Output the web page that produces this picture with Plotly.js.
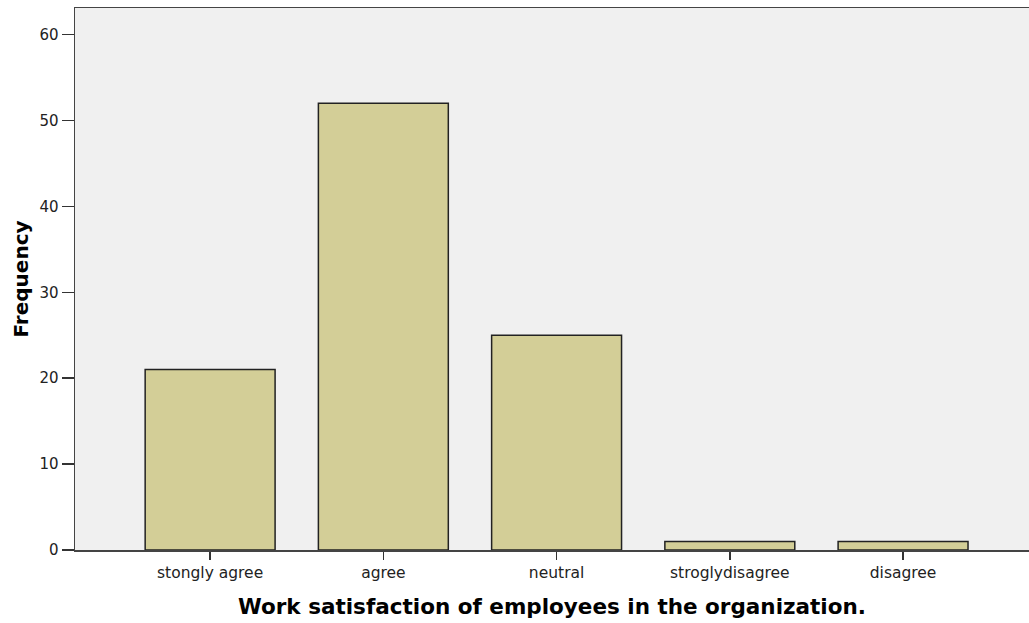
<!DOCTYPE html>
<html>
<head>
<meta charset="utf-8">
<script src="https://cdn.plot.ly/plotly-3.0.1.min.js"></script>
<style>html,body{margin:0;padding:0;background:#fff;}#chart{width:1029px;height:623px;}</style>
</head>
<body>
<div id="chart"></div>
<script>
const categories = ["stongly agree", "agree", "neutral", "stroglydisagree", "disagree"];
const frequencies = [21, 52, 25, 1, 1];
const yTicks = [0, 10, 20, 30, 40, 50, 60];
const xTitle = "Work satisfaction of employees in the organization.";
const yTitle = "Frequency";

const trace = {
  type: "bar",
  x: categories.map((c, i) => i),
  y: frequencies,
  width: 0.75,
  marker: {color: "#D3CE97", line: {color: "#222222", width: 1.5}},
  hoverinfo: "none"
};

const layout = {
  width: 1029, height: 623,
  margin: {l: 75, r: 0, t: 8, b: 73},
  paper_bgcolor: "#ffffff",
  plot_bgcolor: "#F0F0F0",
  showlegend: false,
  xaxis: {
    range: [-0.78, 4.727],
    tickmode: "array",
    tickvals: categories.map((c, i) => i),
    ticktext: categories,
    ticks: "outside", ticklen: 8, tickwidth: 1.5, tickcolor: "#333",
    showline: true, linecolor: "#444", linewidth: 1.5, mirror: true,
    showgrid: false, zeroline: false,
    tickfont: {family: "DejaVu Sans, sans-serif", size: 15.5, color: "#222"},
    title: {text: xTitle, font: {family: "DejaVu Sans, sans-serif", size: 21.5, color: "#000", weight: "bold"}, standoff: 18}
  },
  yaxis: {
    range: [0, 63.1],
    tickmode: "array",
    tickvals: yTicks,
    ticks: "outside", ticklen: 12, tickwidth: 1.5, tickcolor: "#333",
    showline: true, linecolor: "#444", linewidth: 1.5,
    showgrid: false, zeroline: false,
    tickfont: {family: "DejaVu Sans, sans-serif", size: 15, color: "#222"},
    title: {text: yTitle, font: {family: "DejaVu Sans, sans-serif", size: 20, color: "#000", weight: "bold"}, standoff: 5}
  }
};

Plotly.newPlot("chart", [trace], layout, {staticPlot: true, displayModeBar: false});
</script>
</body>
</html>
